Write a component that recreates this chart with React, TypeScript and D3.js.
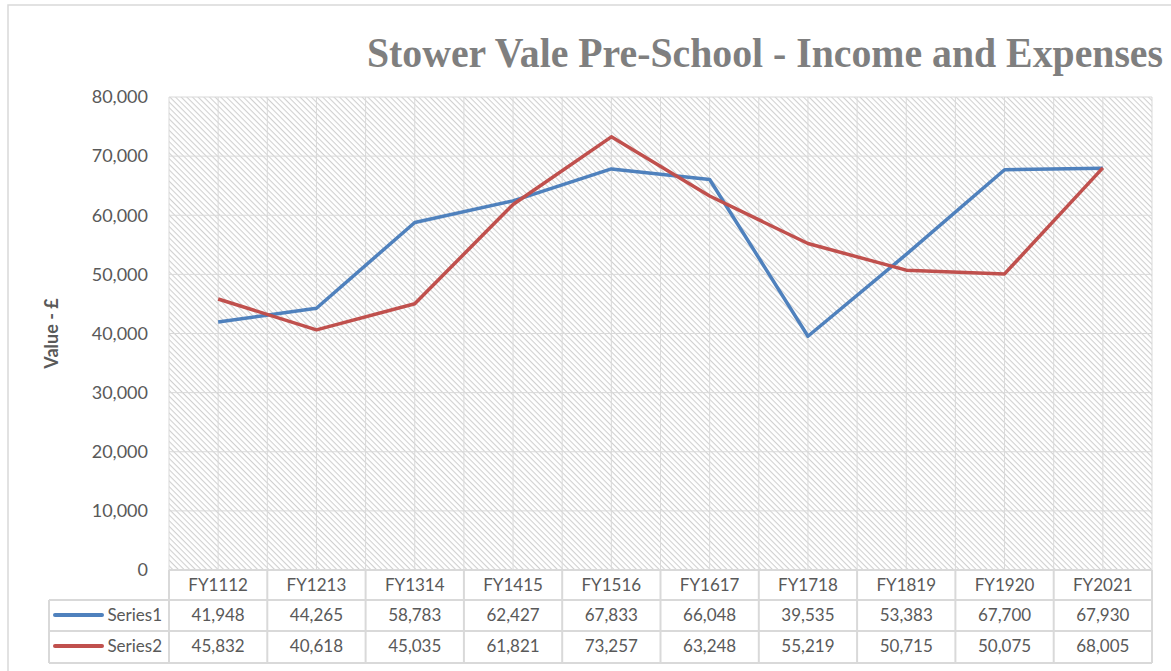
import React from 'react';
import * as d3 from 'd3';

const categories = ['FY1112', 'FY1213', 'FY1314', 'FY1415', 'FY1516', 'FY1617', 'FY1718', 'FY1819', 'FY1920', 'FY2021'];
const series1 = [41948, 44265, 58783, 62427, 67833, 66048, 39535, 53383, 67700, 67930];
const series2 = [45832, 40618, 45035, 61821, 73257, 63248, 55219, 50715, 50075, 68005];
const seriesNames = ['Series1', 'Series2'];
const seriesColors = ['#4F81BD', '#C0504D'];
const yTicks = [0, 10000, 20000, 30000, 40000, 50000, 60000, 70000, 80000];

const title = 'Stower Vale Pre-School - Income and Expenses';
const yTitle = 'Value - £';

export default function App() {
  const width = 1171;
  const height = 671;
  const left = 169, right = 1152, top = 97, bottom = 570;

  const x = d3.scaleBand<string>().domain(categories).range([left, right]);
  const y = d3.scaleLinear().domain([0, 80000]).range([bottom, top]);
  const bw = x.bandwidth();
  const cx = (c: string) => (x(c) as number) + bw / 2;
  const fmt = d3.format(',');

  const line = d3.line<number>()
    .x((_, i) => cx(categories[i]))
    .y(d => y(d));

  const allSeries = [series1, series2];
  const rowLines = [bottom, 600, 631, 663];
  const rowText = [585, 615, 646];
  const grid = '#d9d9d9';
  const textCol = '#595959';
  const font = 'Lato, "Open Sans", sans-serif';

  // vertical grid: band edges plus band centres
  const vLines: number[] = [];
  categories.forEach(c => { vLines.push(x(c) as number); vLines.push(cx(c)); });
  vLines.push(right);

  return (
    <svg width={width} height={height} style={{ position: 'absolute', left: 0, top: 0, background: '#fff' }}>
      <defs>
        <pattern id="hatch" width={4} height={4} patternUnits="userSpaceOnUse" patternTransform="rotate(45)">
          <line x1={0} y1={0.5} x2={4} y2={0.5} stroke="#d0d0d0" strokeWidth={1.2} />
        </pattern>
      </defs>
      <rect x={8} y={5} width={1200} height={700} fill="none" stroke={grid} strokeWidth={1.5} />

      {/* title: condensed serif look via vertical stretch */}
      <g transform="translate(367,67) scale(1,1.2)">
        <text x={0} y={0} fontFamily='"Liberation Serif", "DejaVu Serif", serif' fontWeight="bold" fontSize={36}
          fill="#7f7f7f" textLength={796} lengthAdjust="spacingAndGlyphs">{title}</text>
      </g>

      <rect x={left} y={top} width={right - left} height={bottom - top} fill="url(#hatch)" />
      {yTicks.map(t => (
        <line key={'h' + t} x1={left} x2={right} y1={y(t)} y2={y(t)} stroke={grid} strokeWidth={1} />
      ))}
      {vLines.map((v, i) => (
        <line key={'v' + i} x1={v} x2={v} y1={top} y2={bottom} stroke={grid} strokeWidth={1} />
      ))}

      {yTicks.map(t => (
        <text key={'yt' + t} x={148} y={y(t)} dy="0.35em" textAnchor="end" fontFamily={font} fontSize={18} fill={textCol}>{fmt(t)}</text>
      ))}
      <text transform={`translate(58,${(top + bottom) / 2}) rotate(-90)`} textAnchor="middle" fontFamily={font}
        fontWeight="bold" fontSize={18} fill={textCol}>{yTitle}</text>

      {allSeries.map((s, i) => (
        <path key={'s' + i} d={line(s) || ''} fill="none" stroke={seriesColors[i]} strokeWidth={3.5} strokeLinejoin="round" />
      ))}

      {/* data table */}
      <line x1={left} x2={right} y1={rowLines[0]} y2={rowLines[0]} stroke={grid} strokeWidth={2} />
      {rowLines.slice(1).map((r, i) => (
        <line key={'r' + i} x1={49} x2={right} y1={r} y2={r} stroke={grid} strokeWidth={2} />
      ))}
      <line x1={49} x2={49} y1={rowLines[1]} y2={rowLines[3]} stroke={grid} strokeWidth={2} />
      {categories.map(c => (
        <line key={'tc' + c} x1={x(c) as number} x2={x(c) as number} y1={rowLines[0]} y2={rowLines[3]} stroke={grid} strokeWidth={2} />
      ))}
      <line x1={right} x2={right} y1={rowLines[0]} y2={rowLines[3]} stroke={grid} strokeWidth={2} />
      {categories.map(c => (
        <text key={'cl' + c} x={cx(c)} y={rowText[0]} dy="0.35em" textAnchor="middle" fontFamily={font} fontSize={17} fill={textCol}>{c}</text>
      ))}
      {allSeries.map((s, i) => (
        <g key={'row' + i}>
          <line x1={55} x2={102} y1={rowText[i + 1]} y2={rowText[i + 1]} stroke={seriesColors[i]} strokeWidth={4} strokeLinecap="round" />
          <text x={162} y={rowText[i + 1]} dy="0.35em" textAnchor="end" fontFamily={font} fontSize={17} fill={textCol}>{seriesNames[i]}</text>
          {s.map((v, j) => (
            <text key={j} x={cx(categories[j])} y={rowText[i + 1]} dy="0.35em" textAnchor="middle" fontFamily={font} fontSize={17} fill={textCol}>{fmt(v)}</text>
          ))}
        </g>
      ))}
    </svg>
  );
}
